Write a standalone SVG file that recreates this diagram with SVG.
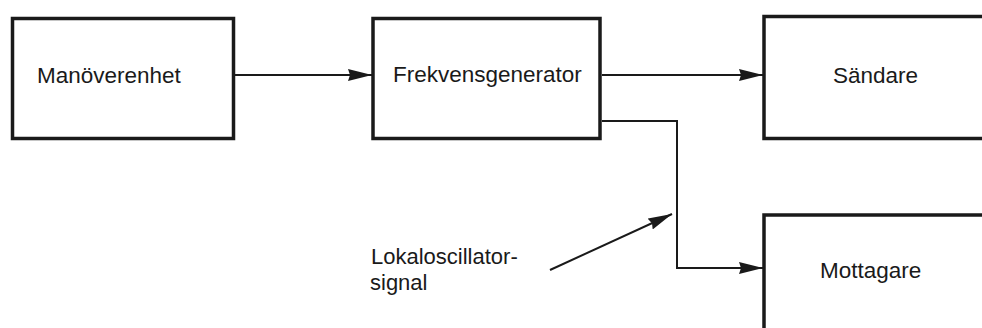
<svg xmlns="http://www.w3.org/2000/svg" width="982" height="328" viewBox="0 0 982 328">
  <style>
    .box { fill: #ffffff; stroke: #1a1a1a; stroke-width: 3.5; }
    .wire { fill: none; stroke: #1a1a1a; stroke-width: 2; }
    .label { font-family: "Liberation Sans", Arial, sans-serif; font-size: 22.5px; fill: #1a1a1a; }
    .note { font-size: 22px; }
  </style>
  <defs>
    <marker id="head" viewBox="0 0 24 12" refX="24" refY="6" markerWidth="24" markerHeight="12" markerUnits="userSpaceOnUse" orient="auto">
      <path d="M0,0 L24,6 L0,12 L2,6 Z" fill="#1a1a1a"/>
    </marker>
  </defs>
  <rect width="982" height="328" fill="#ffffff"/>

  <g id="manoverenhet">
    <rect class="box" x="12.5" y="18.5" width="221" height="120"/>
    <text class="label" x="37" y="83">Manöverenhet</text>
  </g>

  <g id="frekvensgenerator">
    <rect class="box" x="373" y="18.5" width="227" height="120"/>
    <text class="label" x="393" y="82">Frekvensgenerator</text>
  </g>

  <g id="sandare">
    <rect class="box" x="764" y="16.5" width="240" height="122"/>
    <text class="label" x="833" y="83">Sändare</text>
  </g>

  <g id="mottagare">
    <rect class="box" x="764" y="215" width="240" height="140"/>
    <text class="label" x="820" y="278">Mottagare</text>
  </g>

  <g id="lokaloscillator-label">
    <text class="label note" x="371" y="264">Lokaloscillator-</text>
    <text class="label note" x="370" y="290">signal</text>
  </g>

  <g id="connectors">
    <line class="wire" x1="234" y1="75" x2="372" y2="75" marker-end="url(#head)"/>
    <line class="wire" x1="602" y1="75" x2="763" y2="75" marker-end="url(#head)"/>
    <polyline class="wire" points="602,121 677,121 677,268 763,268" marker-end="url(#head)"/>
    <line class="wire" x1="550" y1="270" x2="672" y2="214" marker-end="url(#head)"/>
  </g>
</svg>
